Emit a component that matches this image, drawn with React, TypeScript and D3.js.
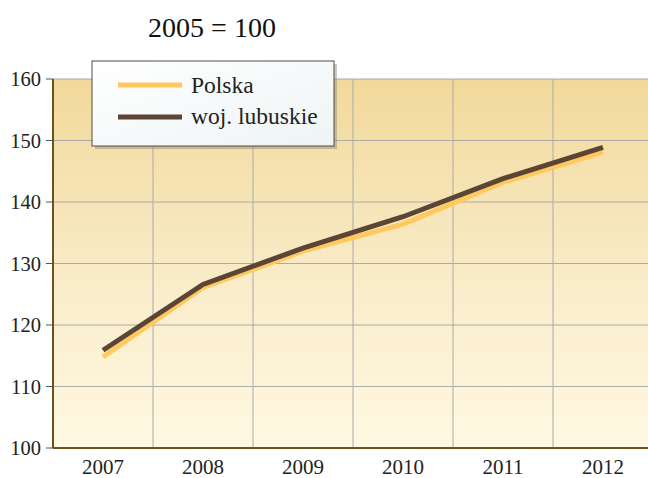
import React from "react";
import * as d3 from "d3";

const years = ["2007", "2008", "2009", "2010", "2011", "2012"];
const polska = [114.8, 126.1, 132.0, 136.4, 143.2, 148.1];
const lubuskie = [115.9, 126.6, 132.5, 137.6, 143.8, 148.9];
const yTicks = [100, 110, 120, 130, 140, 150, 160];
const seriesNames = ["Polska", "woj. lubuskie"];
const seriesColors = ["#ffc95e", "#5b4535"];

export default function App() {
  const W = 648, H = 478;
  const left = 53, right = 653, top = 79, bottom = 448;
  const x = d3.scaleBand().domain(years).range([left, right]);
  const y = d3.scaleLinear().domain([100, 160]).range([bottom, top]);
  const line = d3
    .line<number>()
    .x((_, i) => (x(years[i]) as number) + x.bandwidth() / 2)
    .y((d) => y(d));
  const font = "Liberation Serif, DejaVu Serif, serif";
  return (
    <svg width={W} height={H} style={{ position: "absolute", left: 0, top: 0, fontFamily: font }}>
      <defs>
        <linearGradient id="bg" x1="0" y1="0" x2="0" y2="1">
          <stop offset="0" stopColor="#f2d99a" />
          <stop offset="0.55" stopColor="#f9ecc9" />
          <stop offset="1" stopColor="#fff8e2" />
        </linearGradient>
        <linearGradient id="lg" x1="0" y1="0" x2="1" y2="1">
          <stop offset="0" stopColor="#ffffff" />
          <stop offset="1" stopColor="#eef4f5" />
        </linearGradient>
      </defs>
      <rect x={0} y={0} width={W} height={H} fill="#fff" />
      <text x={212} y={37} fontSize={28} textAnchor="middle" fill="#111" style={{ fontFamily: font }}>2005 = 100</text>
      <rect x={left} y={top} width={right - left} height={bottom - top} fill="url(#bg)" />
      {yTicks.map((t) => (
        <g key={t}>
          <line x1={left} x2={right} y1={y(t)} y2={y(t)} stroke="#aaaaaa" strokeWidth={1} />
          <line x1={left - 7} x2={left} y1={y(t)} y2={y(t)} stroke="#555" strokeWidth={1} />
          <text x={left - 12} y={y(t) + 7} fontSize={20.5} textAnchor="end" fill="#222" style={{ fontFamily: font }}>{t}</text>
        </g>
      ))}
      {years.slice(1).map((yr) => (
        <line key={yr} x1={x(yr) as number} x2={x(yr) as number} y1={top} y2={bottom} stroke="#aaaaaa" strokeWidth={1} />
      ))}
      {years.map((yr) => (
        <text key={yr} x={(x(yr) as number) + x.bandwidth() / 2} y={474} fontSize={21} textAnchor="middle" fill="#222" style={{ fontFamily: font }}>{yr}</text>
      ))}
      <line x1={left} x2={left} y1={top} y2={bottom} stroke="#6b5220" strokeWidth={2} />
      <line x1={left} x2={right} y1={bottom} y2={bottom} stroke="#6b5220" strokeWidth={2} />
      <path d={line(polska) || ""} fill="none" stroke={seriesColors[0]} strokeWidth={5} />
      <path d={line(lubuskie) || ""} fill="none" stroke={seriesColors[1]} strokeWidth={5} />
      <rect x={95} y={64} width={242} height={85} fill="#888" opacity={0.45} />
      <rect x={92} y={61} width={242} height={85} fill="url(#lg)" stroke="#5b4a3d" strokeWidth={1} />
      {seriesNames.map((n, i) => (
        <g key={n}>
          <line x1={118} x2={182} y1={85 + i * 32} y2={85 + i * 32} stroke={seriesColors[i]} strokeWidth={5} />
          <text x={191} y={93 + i * 31} fontSize={23.5} fill="#222" style={{ fontFamily: font }}>{n}</text>
        </g>
      ))}
    </svg>
  );
}
